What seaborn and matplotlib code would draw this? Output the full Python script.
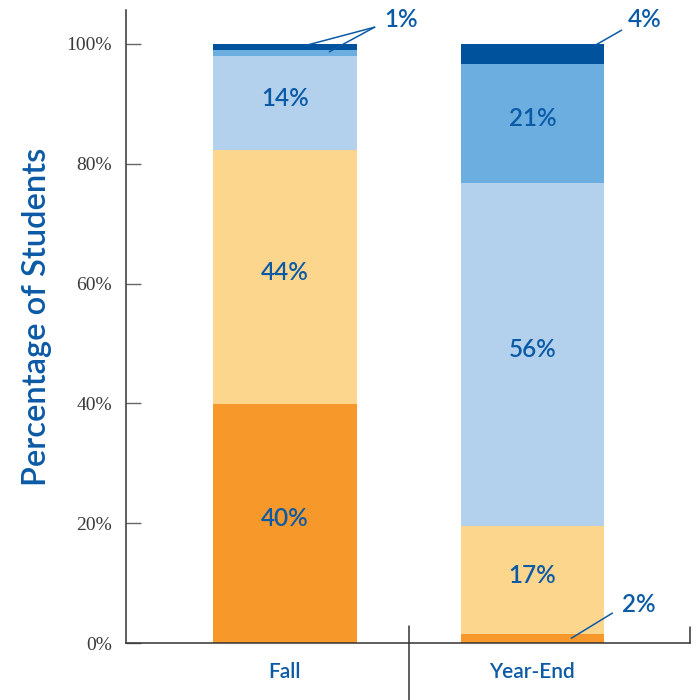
import numpy as np
import pandas as pd
import matplotlib
matplotlib.use("Agg")
import matplotlib.pyplot as plt
import matplotlib.transforms as mtransforms
import seaborn as sns

# categories and stacked segment heights (bottom -> top)
periods = ["Fall", "Year-End"]
fall_heights = [39.9, 42.4, 15.75, 0.95, 1.0]
yearend_heights = [1.5, 18.0, 57.3, 19.9, 3.3]
fall_labels = ["40%", "44%", "14%", "1%", "1%"]
yearend_labels = ["2%", "17%", "56%", "21%", "4%"]
segment_colors = ["#F7982A", "#FDD68E", "#B3D1EC", "#6BAEDF", "#00529C"]
y_ticks = [0, 20, 40, 60, 80, 100]
y_ticklabels = ["0%", "20%", "40%", "60%", "80%", "100%"]

text_blue = "#0B5AA6"

sns.set_style("white")
plt.rcParams["font.family"] = ["Lato", "DejaVu Sans"]

heights = np.array([fall_heights, yearend_heights])
tops = heights.cumsum(axis=1)

fig = plt.figure(figsize=(6.96, 7.0), dpi=100)
ax = fig.add_axes([0.181, 0.0814, 0.81, 0.9046])

# stacked bars: draw cumulative totals from the top level down
for level in range(len(segment_colors) - 1, -1, -1):
    df = pd.DataFrame({"period": periods, "top": tops[:, level]})
    sns.barplot(data=df, x="period", y="top", color=segment_colors[level],
                width=0.58, saturation=1, linewidth=0, ax=ax)

# labels inside the bigger segments
for i, (hs, labs) in enumerate([(fall_heights, fall_labels), (yearend_heights, yearend_labels)]):
    bottoms = np.concatenate([[0], np.cumsum(hs)[:-1]])
    for h, b, lab in zip(hs, bottoms, labs):
        if h > 10:
            ax.text(i, b + h / 2 + 0.8, lab, ha="center", va="center",
                    fontsize=17.5, color=text_blue, fontweight="semibold")

# callouts for the thin segments
ftops = np.cumsum(fall_heights)
ax.text(0.40, 104.0, fall_labels[3], fontsize=17.5, color=text_blue, va="center",
        fontweight="semibold", clip_on=False)
ax.plot([0.363, 0.08], [102.8, ftops[4] - 0.3], color=text_blue, lw=1.1, clip_on=False)
ax.plot([0.363, 0.18], [102.8, ftops[3] - 0.3], color=text_blue, lw=1.1, clip_on=False)

ytops = np.cumsum(yearend_heights)
ax.text(1.385, 104.0, yearend_labels[4], fontsize=17.5, color=text_blue, va="center",
        fontweight="semibold", clip_on=False)
ax.plot([1.36, 1.25], [102.3, ytops[4] - 0.3], color=text_blue, lw=1.1, clip_on=False)
ax.text(1.36, 6.4, yearend_labels[0], fontsize=17.5, color=text_blue, va="center",
        fontweight="semibold")
ax.plot([1.323, 1.157], [5.0, 0.8], color=text_blue, lw=1.1)

ax.set_xlim(-0.641, 1.635)
ax.set_ylim(0, 105.7)
ax.set_yticks(y_ticks)
ax.set_yticklabels(y_ticklabels, family=["Liberation Serif", "DejaVu Serif"],
                   fontsize=14, color="#3a3a3a")
offset = mtransforms.ScaledTranslation(0, 4 / 72, fig.dpi_scale_trans)
for lab in ax.get_yticklabels():
    lab.set_transform(lab.get_transform() + offset)
ax.tick_params(axis="y", direction="in", length=11, width=1, color="#666666", pad=10, left=True)
ax.tick_params(axis="x", length=0, pad=14, labelsize=15, labelcolor=text_blue)
for lab in ax.get_xticklabels():
    lab.set_fontweight("semibold")
ax.set_xlabel("")
ax.set_ylabel("Percentage of Students", fontsize=23.5, color=text_blue,
              fontweight="semibold")
ax.yaxis.set_label_coords(-0.131, 0.515)

for side in ["top", "right"]:
    ax.spines[side].set_visible(False)
for side in ["left", "bottom"]:
    ax.spines[side].set_color("#333333")
    ax.spines[side].set_linewidth(1.1)

# separator between the two periods and the tick at the right end
trans = mtransforms.blended_transform_factory(ax.transData, ax.transAxes)
ax.plot([0.5, 0.5], [0.027, -0.095], color="#333333", lw=1.1, transform=trans, clip_on=False)
ax.plot([1, 1], [0, 0.025], color="#333333", lw=1.1, transform=ax.transAxes, clip_on=False)

fig.savefig("out.png", dpi=100)
